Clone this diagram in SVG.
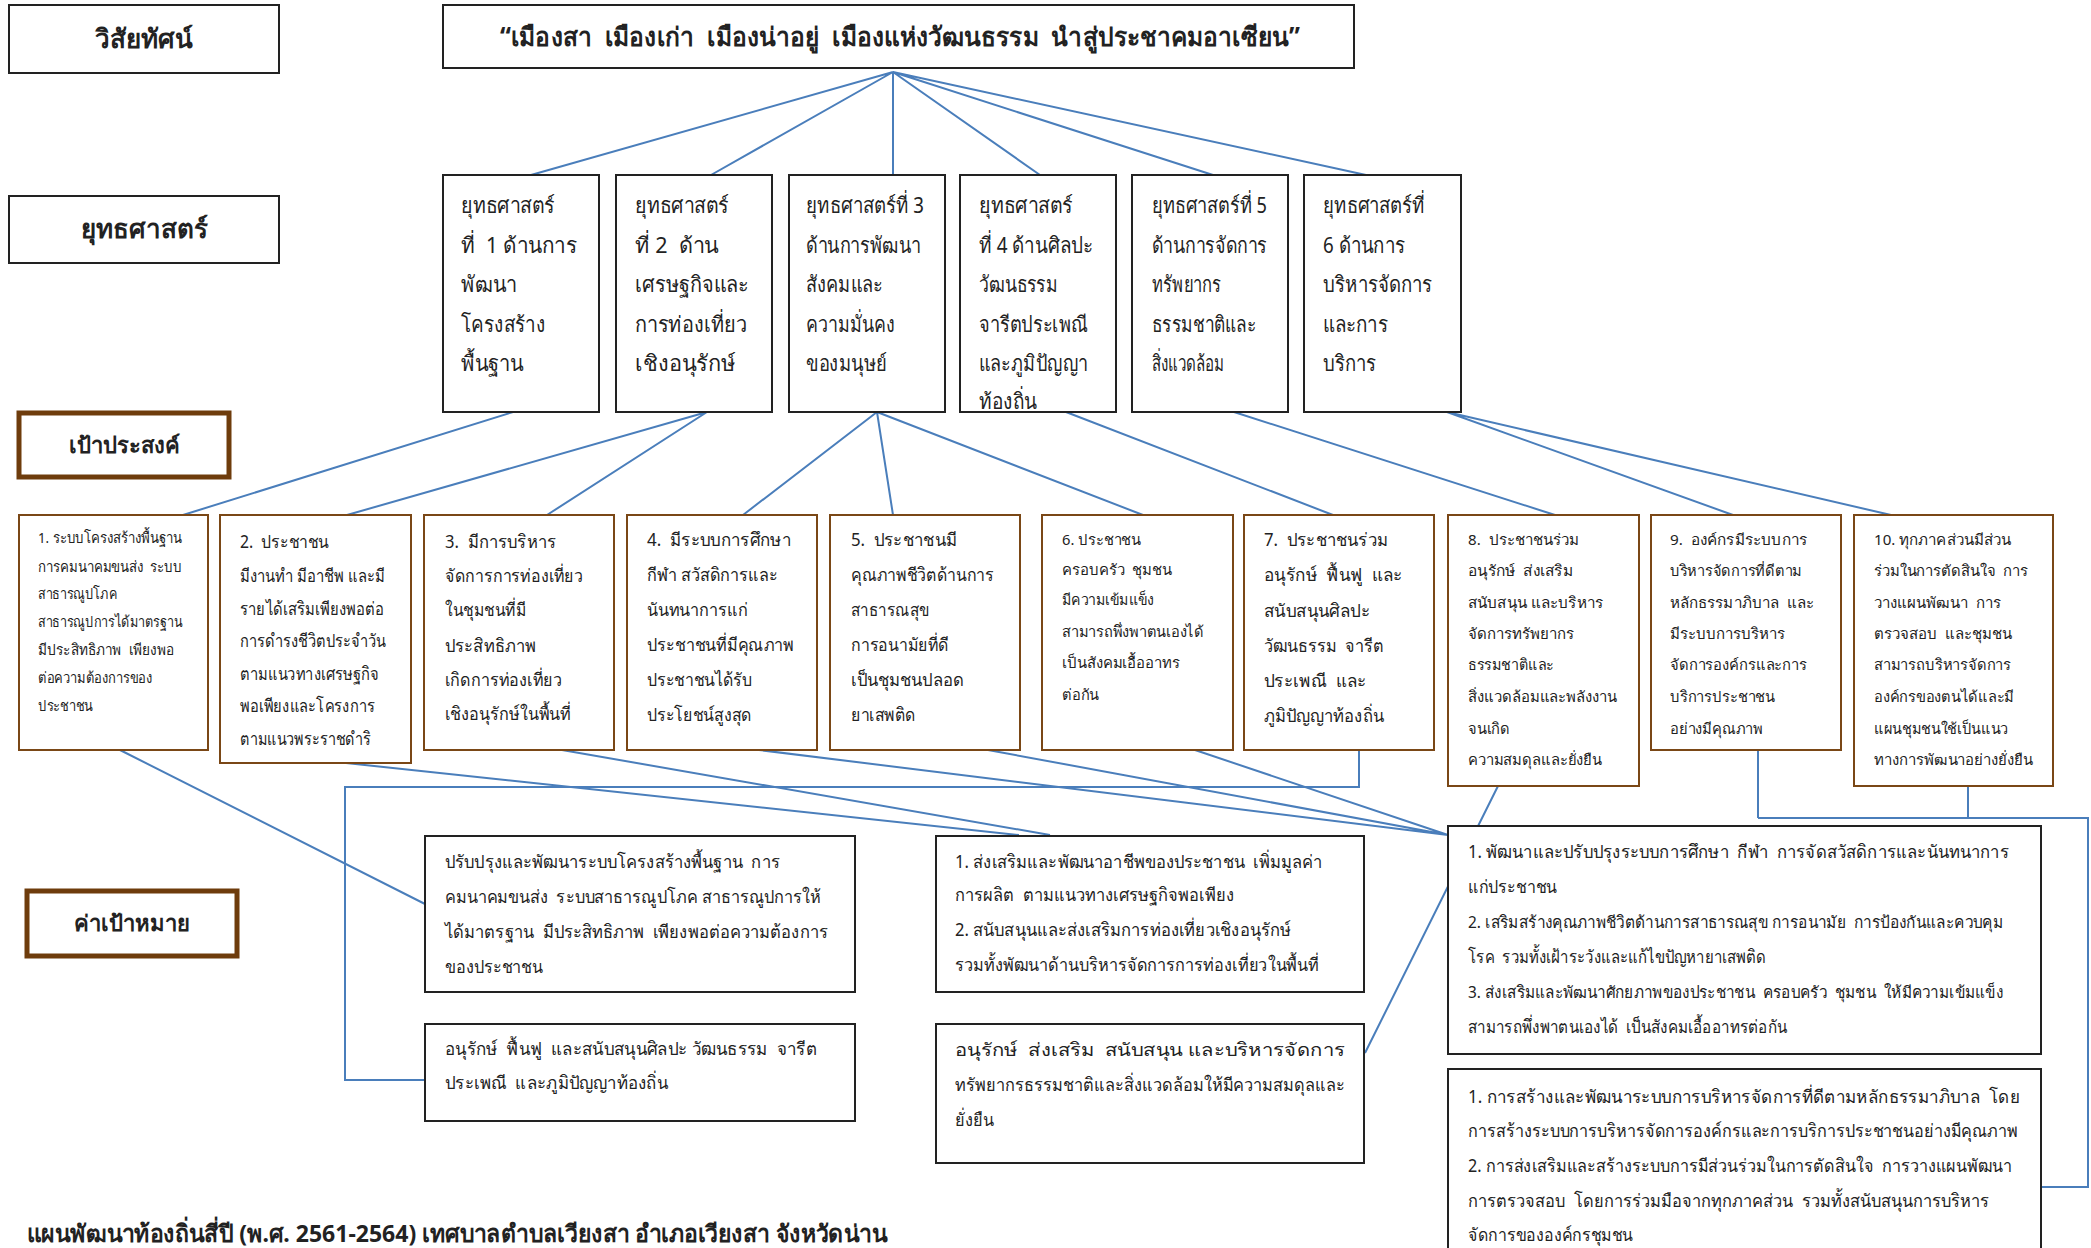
<svg xmlns="http://www.w3.org/2000/svg" width="2091" height="1248" viewBox="0 0 2091 1248">
<style>
text{font-family:"Noto Sans","DejaVu Sans",sans-serif;fill:#222;white-space:pre;}
.lbl{font-size:26px;font-weight:bold;text-anchor:middle;}
.vis{font-size:26px;font-weight:bold;}
.box{fill:#fff;stroke:#222;stroke-width:2;}
.gbox{fill:#fff;stroke:#7a4716;stroke-width:2;}
.tbox{fill:#fff;stroke:#6e3c0c;stroke-width:5;}
.st{font-size:22px;}
.g{font-size:18px;}
.gs{font-size:15px;}
.t{font-size:18px;}
.tn{font-size:16.5px;}
.con{fill:none;stroke:#4a7ebb;stroke-width:2;}
</style>
<rect width="2091" height="1248" fill="#fff"/>
<g id="connectors">
<path class="con" d="M893 72L531 175M893 72L711 175M893 72L893 175M893 72L1040 175M893 72L1213 175M893 72L1366 175"/>
<path class="con" d="M513 412L183 515M707 412L347 515M707 412L547 515M877 412L743 515M877 412L893 515M877 412L1143 515M1066 412L1333 515M1234 412L1555 515M1447 412L1733 515M1447 412L1891 515"/>
<path class="con" d="M120 750L425 904M346 763L1019 835M562 750L1050 835M759 750L1448 835M988 750L1448 835M1195 750L1448 835M1498 786L1365 1053"/>
<path class="con" d="M1359 750V787H345V1080H425"/>
<path class="con" d="M1758 750V818M1968 786V818M1758 818H2088V1187H2041"/>
</g>
<g id="label-vision"><rect class="box" x="9" y="5" width="270" height="68"/><text class="lbl" x="144" y="48">วิสัยทัศน์</text></g>
<g id="vision"><rect class="box" x="443" y="5" width="911" height="63"/><text class="vis" x="500" y="46" textLength="800" lengthAdjust="spacingAndGlyphs">“เมืองสา  เมืองเก่า  เมืองน่าอยู่  เมืองแห่งวัฒนธรรม  นำสู่ประชาคมอาเซียน”</text></g>
<g id="label-strategy"><rect class="box" x="9" y="196" width="270" height="67"/><text class="lbl" x="144" y="238">ยุทธศาสตร์</text></g>
<g id="label-goal"><rect class="tbox" x="19" y="413" width="210" height="64"/><text class="lbl" x="124" y="453" style="font-size:22px">เป้าประสงค์</text></g>
<g id="label-target"><rect class="tbox" x="27" y="891" width="210" height="65"/><text class="lbl" x="132" y="931" style="font-size:22px">ค่าเป้าหมาย</text></g>

<g id="s1" class="st"><rect class="box" x="443" y="175" width="156" height="237"/>
<text x="461" y="213" textLength="94" lengthAdjust="spacingAndGlyphs">ยุทธศาสตร์</text>
<text x="461" y="253" textLength="116" lengthAdjust="spacingAndGlyphs">ที่  1 ด้านการ</text>
<text x="461" y="292" textLength="56" lengthAdjust="spacingAndGlyphs">พัฒนา</text>
<text x="461" y="332" textLength="84" lengthAdjust="spacingAndGlyphs">โครงสร้าง</text>
<text x="461" y="371" textLength="63" lengthAdjust="spacingAndGlyphs">พื้นฐาน</text></g>
<g id="s2" class="st"><rect class="box" x="616" y="175" width="156" height="237"/>
<text x="635" y="213" textLength="94" lengthAdjust="spacingAndGlyphs">ยุทธศาสตร์</text>
<text x="635" y="253" textLength="84" lengthAdjust="spacingAndGlyphs">ที่ 2  ด้าน</text>
<text x="635" y="292" textLength="114" lengthAdjust="spacingAndGlyphs">เศรษฐกิจและ</text>
<text x="635" y="332" textLength="112" lengthAdjust="spacingAndGlyphs">การท่องเที่ยว</text>
<text x="635" y="371" textLength="101" lengthAdjust="spacingAndGlyphs">เชิงอนุรักษ์</text></g>
<g id="s3" class="st"><rect class="box" x="789" y="175" width="156" height="237"/>
<text x="806" y="213" textLength="118" lengthAdjust="spacingAndGlyphs">ยุทธศาสตร์ที่ 3</text>
<text x="806" y="253" textLength="115" lengthAdjust="spacingAndGlyphs">ด้านการพัฒนา</text>
<text x="806" y="292" textLength="77" lengthAdjust="spacingAndGlyphs">สังคมและ</text>
<text x="806" y="332" textLength="89" lengthAdjust="spacingAndGlyphs">ความมั่นคง</text>
<text x="806" y="371" textLength="81" lengthAdjust="spacingAndGlyphs">ของมนุษย์</text></g>
<g id="s4" class="st"><rect class="box" x="960" y="175" width="156" height="237"/>
<text x="979" y="213" textLength="94" lengthAdjust="spacingAndGlyphs">ยุทธศาสตร์</text>
<text x="979" y="253" textLength="114" lengthAdjust="spacingAndGlyphs">ที่ 4 ด้านศิลปะ</text>
<text x="979" y="292" textLength="79" lengthAdjust="spacingAndGlyphs">วัฒนธรรม</text>
<text x="979" y="332" textLength="109" lengthAdjust="spacingAndGlyphs">จารีตประเพณี</text>
<text x="979" y="371" textLength="109" lengthAdjust="spacingAndGlyphs">และภูมิปัญญา</text>
<text x="979" y="409" textLength="58" lengthAdjust="spacingAndGlyphs">ท้องถิ่น</text></g>
<g id="s5" class="st"><rect class="box" x="1132" y="175" width="156" height="237"/>
<text x="1152" y="213" textLength="115" lengthAdjust="spacingAndGlyphs">ยุทธศาสตร์ที่ 5</text>
<text x="1152" y="253" textLength="115" lengthAdjust="spacingAndGlyphs">ด้านการจัดการ</text>
<text x="1152" y="292" textLength="69" lengthAdjust="spacingAndGlyphs">ทรัพยากร</text>
<text x="1152" y="332" textLength="104" lengthAdjust="spacingAndGlyphs">ธรรมชาติและ</text>
<text x="1152" y="371" textLength="72" lengthAdjust="spacingAndGlyphs">สิ่งแวดล้อม</text></g>
<g id="s6" class="st"><rect class="box" x="1304" y="175" width="157" height="237"/>
<text x="1323" y="213" textLength="102" lengthAdjust="spacingAndGlyphs">ยุทธศาสตร์ที่</text>
<text x="1323" y="253" textLength="82" lengthAdjust="spacingAndGlyphs">6 ด้านการ</text>
<text x="1323" y="292" textLength="109" lengthAdjust="spacingAndGlyphs">บริหารจัดการ</text>
<text x="1323" y="332" textLength="65" lengthAdjust="spacingAndGlyphs">และการ</text>
<text x="1323" y="371" textLength="53" lengthAdjust="spacingAndGlyphs">บริการ</text></g>

<g id="g1" class="gs"><rect class="gbox" x="19" y="515" width="189" height="235"/>
<text x="38" y="543" textLength="144" lengthAdjust="spacingAndGlyphs">1. ระบบโครงสร้างพื้นฐาน</text>
<text x="38" y="572" textLength="144" lengthAdjust="spacingAndGlyphs">การคมนาคมขนส่ง  ระบบ</text>
<text x="38" y="599" textLength="79" lengthAdjust="spacingAndGlyphs">สาธารณูปโภค</text>
<text x="38" y="627" textLength="144" lengthAdjust="spacingAndGlyphs">สาธารณูปการได้มาตรฐาน</text>
<text x="38" y="655" textLength="136" lengthAdjust="spacingAndGlyphs">มีประสิทธิภาพ  เพียงพอ</text>
<text x="38" y="683" textLength="114" lengthAdjust="spacingAndGlyphs">ต่อความต้องการของ</text>
<text x="38" y="711" textLength="55" lengthAdjust="spacingAndGlyphs">ประชาชน</text></g>
<g id="g2" class="g"><rect class="gbox" x="220" y="515" width="191" height="248"/>
<text x="240" y="548" textLength="89" lengthAdjust="spacingAndGlyphs">2.  ประชาชน</text>
<text x="240" y="582" textLength="145" lengthAdjust="spacingAndGlyphs">มีงานทำ มีอาชีพ และมี</text>
<text x="240" y="615" textLength="144" lengthAdjust="spacingAndGlyphs">รายได้เสริมเพียงพอต่อ</text>
<text x="240" y="647" textLength="146" lengthAdjust="spacingAndGlyphs">การดำรงชีวิตประจำวัน</text>
<text x="240" y="680" textLength="139" lengthAdjust="spacingAndGlyphs">ตามแนวทางเศรษฐกิจ</text>
<text x="240" y="712" textLength="135" lengthAdjust="spacingAndGlyphs">พอเพียงและโครงการ</text>
<text x="240" y="745" textLength="131" lengthAdjust="spacingAndGlyphs">ตามแนวพระราชดำริ</text></g>
<g id="g3" class="g"><rect class="gbox" x="424" y="515" width="190" height="235"/>
<text x="445" y="548" textLength="111" lengthAdjust="spacingAndGlyphs">3.  มีการบริหาร</text>
<text x="445" y="582" textLength="138" lengthAdjust="spacingAndGlyphs">จัดการการท่องเที่ยว</text>
<text x="445" y="616" textLength="81" lengthAdjust="spacingAndGlyphs">ในชุมชนที่มี</text>
<text x="445" y="652" textLength="91" lengthAdjust="spacingAndGlyphs">ประสิทธิภาพ</text>
<text x="445" y="686" textLength="117" lengthAdjust="spacingAndGlyphs">เกิดการท่องเที่ยว</text>
<text x="445" y="720" textLength="126" lengthAdjust="spacingAndGlyphs">เชิงอนุรักษ์ในพื้นที่</text></g>
<g id="g4" class="g"><rect class="gbox" x="627" y="515" width="190" height="235"/>
<text x="647" y="546" textLength="144" lengthAdjust="spacingAndGlyphs">4.  มีระบบการศึกษา</text>
<text x="647" y="581" textLength="131" lengthAdjust="spacingAndGlyphs">กีฬา สวัสดิการและ</text>
<text x="647" y="616" textLength="101" lengthAdjust="spacingAndGlyphs">นันทนาการแก่</text>
<text x="647" y="651" textLength="147" lengthAdjust="spacingAndGlyphs">ประชาชนที่มีคุณภาพ</text>
<text x="647" y="686" textLength="105" lengthAdjust="spacingAndGlyphs">ประชาชนได้รับ</text>
<text x="647" y="721" textLength="105" lengthAdjust="spacingAndGlyphs">ประโยชน์สูงสุด</text></g>
<g id="g5" class="g"><rect class="gbox" x="830" y="515" width="190" height="235"/>
<text x="851" y="546" textLength="106" lengthAdjust="spacingAndGlyphs">5.  ประชาชนมี</text>
<text x="851" y="581" textLength="143" lengthAdjust="spacingAndGlyphs">คุณภาพชีวิตด้านการ</text>
<text x="851" y="616" textLength="78" lengthAdjust="spacingAndGlyphs">สาธารณสุข</text>
<text x="851" y="651" textLength="98" lengthAdjust="spacingAndGlyphs">การอนามัยที่ดี</text>
<text x="851" y="686" textLength="113" lengthAdjust="spacingAndGlyphs">เป็นชุมชนปลอด</text>
<text x="851" y="721" textLength="65" lengthAdjust="spacingAndGlyphs">ยาเสพติด</text></g>
<g id="g6" class="gs"><rect class="gbox" x="1042" y="515" width="191" height="235"/>
<text x="1062" y="545" textLength="79" lengthAdjust="spacingAndGlyphs">6. ประชาชน</text>
<text x="1062" y="575" textLength="110" lengthAdjust="spacingAndGlyphs">ครอบครัว  ชุมชน</text>
<text x="1062" y="605" textLength="92" lengthAdjust="spacingAndGlyphs">มีความเข้มแข็ง</text>
<text x="1062" y="637" textLength="142" lengthAdjust="spacingAndGlyphs">สามารถพึ่งพาตนเองได้</text>
<text x="1062" y="668" textLength="118" lengthAdjust="spacingAndGlyphs">เป็นสังคมเอื้ออาทร</text>
<text x="1062" y="700" textLength="37" lengthAdjust="spacingAndGlyphs">ต่อกัน</text></g>
<g id="g7" class="g"><rect class="gbox" x="1244" y="515" width="190" height="235"/>
<text x="1264" y="546" textLength="124" lengthAdjust="spacingAndGlyphs">7.  ประชาชนร่วม</text>
<text x="1264" y="581" textLength="139" lengthAdjust="spacingAndGlyphs">อนุรักษ์  ฟื้นฟู  และ</text>
<text x="1264" y="617" textLength="106" lengthAdjust="spacingAndGlyphs">สนับสนุนศิลปะ</text>
<text x="1264" y="652" textLength="120" lengthAdjust="spacingAndGlyphs">วัฒนธรรม  จารีต</text>
<text x="1264" y="687" textLength="103" lengthAdjust="spacingAndGlyphs">ประเพณี  และ</text>
<text x="1264" y="722" textLength="120" lengthAdjust="spacingAndGlyphs">ภูมิปัญญาท้องถิ่น</text></g>
<g id="g8" class="gs"><rect class="gbox" x="1448" y="515" width="191" height="271"/>
<text x="1468" y="545" textLength="111" lengthAdjust="spacingAndGlyphs">8.  ประชาชนร่วม</text>
<text x="1468" y="576" textLength="105" lengthAdjust="spacingAndGlyphs">อนุรักษ์  ส่งเสริม</text>
<text x="1468" y="608" textLength="135" lengthAdjust="spacingAndGlyphs">สนับสนุน และบริหาร</text>
<text x="1468" y="639" textLength="106" lengthAdjust="spacingAndGlyphs">จัดการทรัพยากร</text>
<text x="1468" y="670" textLength="86" lengthAdjust="spacingAndGlyphs">ธรรมชาติและ</text>
<text x="1468" y="702" textLength="149" lengthAdjust="spacingAndGlyphs">สิ่งแวดล้อมและพลังงาน</text>
<text x="1468" y="734" textLength="42" lengthAdjust="spacingAndGlyphs">จนเกิด</text>
<text x="1468" y="765" textLength="134" lengthAdjust="spacingAndGlyphs">ความสมดุลและยั่งยืน</text></g>
<g id="g9" class="gs"><rect class="gbox" x="1651" y="515" width="190" height="235"/>
<text x="1670" y="545" textLength="137" lengthAdjust="spacingAndGlyphs">9.  องค์กรมีระบบการ</text>
<text x="1670" y="576" textLength="132" lengthAdjust="spacingAndGlyphs">บริหารจัดการที่ดีตาม</text>
<text x="1670" y="608" textLength="144" lengthAdjust="spacingAndGlyphs">หลักธรรมาภิบาล  และ</text>
<text x="1670" y="639" textLength="115" lengthAdjust="spacingAndGlyphs">มีระบบการบริหาร</text>
<text x="1670" y="670" textLength="137" lengthAdjust="spacingAndGlyphs">จัดการองค์กรและการ</text>
<text x="1670" y="702" textLength="105" lengthAdjust="spacingAndGlyphs">บริการประชาชน</text>
<text x="1670" y="734" textLength="93" lengthAdjust="spacingAndGlyphs">อย่างมีคุณภาพ</text></g>
<g id="g10" class="gs"><rect class="gbox" x="1854" y="515" width="199" height="271"/>
<text x="1874" y="545" textLength="137" lengthAdjust="spacingAndGlyphs">10. ทุกภาคส่วนมีส่วน</text>
<text x="1874" y="576" textLength="154" lengthAdjust="spacingAndGlyphs">ร่วมในการตัดสินใจ  การ</text>
<text x="1874" y="608" textLength="127" lengthAdjust="spacingAndGlyphs">วางแผนพัฒนา  การ</text>
<text x="1874" y="639" textLength="138" lengthAdjust="spacingAndGlyphs">ตรวจสอบ  และชุมชน</text>
<text x="1874" y="670" textLength="137" lengthAdjust="spacingAndGlyphs">สามารถบริหารจัดการ</text>
<text x="1874" y="702" textLength="140" lengthAdjust="spacingAndGlyphs">องค์กรของตนได้และมี</text>
<text x="1874" y="734" textLength="134" lengthAdjust="spacingAndGlyphs">แผนชุมชนใช้เป็นแนว</text>
<text x="1874" y="765" textLength="159" lengthAdjust="spacingAndGlyphs">ทางการพัฒนาอย่างยั่งยืน</text></g>

<g id="t1" class="t"><rect class="box" x="425" y="836" width="430" height="156"/>
<text x="445" y="868" textLength="335" lengthAdjust="spacingAndGlyphs">ปรับปรุงและพัฒนาระบบโครงสร้างพื้นฐาน  การ</text>
<text x="445" y="903" textLength="376" lengthAdjust="spacingAndGlyphs">คมนาคมขนส่ง  ระบบสาธารณูปโภค สาธารณูปการให้</text>
<text x="445" y="938" textLength="383" lengthAdjust="spacingAndGlyphs">ได้มาตรฐาน  มีประสิทธิภาพ  เพียงพอต่อความต้องการ</text>
<text x="445" y="973" textLength="98" lengthAdjust="spacingAndGlyphs">ของประชาชน</text></g>
<g id="t2" class="t"><rect class="box" x="425" y="1024" width="430" height="97"/>
<text x="445" y="1055" textLength="372" lengthAdjust="spacingAndGlyphs">อนุรักษ์  ฟื้นฟู  และสนับสนุนศิลปะ วัฒนธรรม  จารีต</text>
<text x="445" y="1089" textLength="223" lengthAdjust="spacingAndGlyphs">ประเพณี  และภูมิปัญญาท้องถิ่น</text></g>
<g id="t3" class="t"><rect class="box" x="936" y="836" width="428" height="156"/>
<text x="955" y="868" textLength="367" lengthAdjust="spacingAndGlyphs">1. ส่งเสริมและพัฒนาอาชีพของประชาชน  เพิ่มมูลค่า</text>
<text x="955" y="901" textLength="279" lengthAdjust="spacingAndGlyphs">การผลิต  ตามแนวทางเศรษฐกิจพอเพียง</text>
<text x="955" y="936" textLength="336" lengthAdjust="spacingAndGlyphs">2. สนับสนุนและส่งเสริมการท่องเที่ยวเชิงอนุรักษ์</text>
<text x="955" y="971" textLength="364" lengthAdjust="spacingAndGlyphs">รวมทั้งพัฒนาด้านบริหารจัดการการท่องเที่ยวในพื้นที่</text></g>
<g id="t4" class="t"><rect class="box" x="936" y="1024" width="428" height="139"/>
<text x="955" y="1056" textLength="390" lengthAdjust="spacingAndGlyphs">อนุรักษ์  ส่งเสริม  สนับสนุน และบริหารจัดการ</text>
<text x="955" y="1091" textLength="390" lengthAdjust="spacingAndGlyphs">ทรัพยากรธรรมชาติและสิ่งแวดล้อมให้มีความสมดุลและ</text>
<text x="955" y="1126" textLength="39" lengthAdjust="spacingAndGlyphs">ยั่งยืน</text></g>
<g id="t5" class="t"><rect class="box" x="1448" y="826" width="593" height="228"/>
<text x="1468" y="858" textLength="541" lengthAdjust="spacingAndGlyphs">1. พัฒนาและปรับปรุงระบบการศึกษา  กีฬา  การจัดสวัสดิการและนันทนาการ</text>
<text x="1468" y="893" textLength="89" lengthAdjust="spacingAndGlyphs">แก่ประชาชน</text>
<text class="tn" x="1468" y="928" textLength="535" lengthAdjust="spacingAndGlyphs">2. เสริมสร้างคุณภาพชีวิตด้านการสาธารณสุข การอนามัย  การป้องกันและควบคุม</text>
<text x="1468" y="963" textLength="298" lengthAdjust="spacingAndGlyphs">โรค  รวมทั้งเฝ้าระวังและแก้ไขปัญหายาเสพติด</text>
<text class="tn" x="1468" y="998" textLength="535" lengthAdjust="spacingAndGlyphs">3. ส่งเสริมและพัฒนาศักยภาพของประชาชน  ครอบครัว  ชุมชน  ให้มีความเข้มแข็ง</text>
<text x="1468" y="1033" textLength="319" lengthAdjust="spacingAndGlyphs">สามารถพึ่งพาตนเองได้  เป็นสังคมเอื้ออาทรต่อกัน</text></g>
<g id="t6" class="t"><rect class="box" x="1448" y="1069" width="593" height="190"/>
<text x="1468" y="1103" textLength="552" lengthAdjust="spacingAndGlyphs">1. การสร้างและพัฒนาระบบการบริหารจัดการที่ดีตามหลักธรรมาภิบาล  โดย</text>
<text x="1468" y="1137" textLength="550" lengthAdjust="spacingAndGlyphs">การสร้างระบบการบริหารจัดการองค์กรและการบริการประชาชนอย่างมีคุณภาพ</text>
<text x="1468" y="1172" textLength="544" lengthAdjust="spacingAndGlyphs">2. การส่งเสริมและสร้างระบบการมีส่วนร่วมในการตัดสินใจ  การวางแผนพัฒนา</text>
<text x="1468" y="1207" textLength="521" lengthAdjust="spacingAndGlyphs">การตรวจสอบ  โดยการร่วมมือจากทุกภาคส่วน  รวมทั้งสนับสนุนการบริหาร</text>
<text x="1468" y="1241" textLength="165" lengthAdjust="spacingAndGlyphs">จัดการขององค์กรชุมชน</text></g>

<g id="footer"><text x="27" y="1242" textLength="860" lengthAdjust="spacingAndGlyphs" style="font-size:24px;font-weight:bold">แผนพัฒนาท้องถิ่นสี่ปี (พ.ศ. 2561-2564) เทศบาลตำบลเวียงสา อำเภอเวียงสา จังหวัดน่าน</text></g>
</svg>
